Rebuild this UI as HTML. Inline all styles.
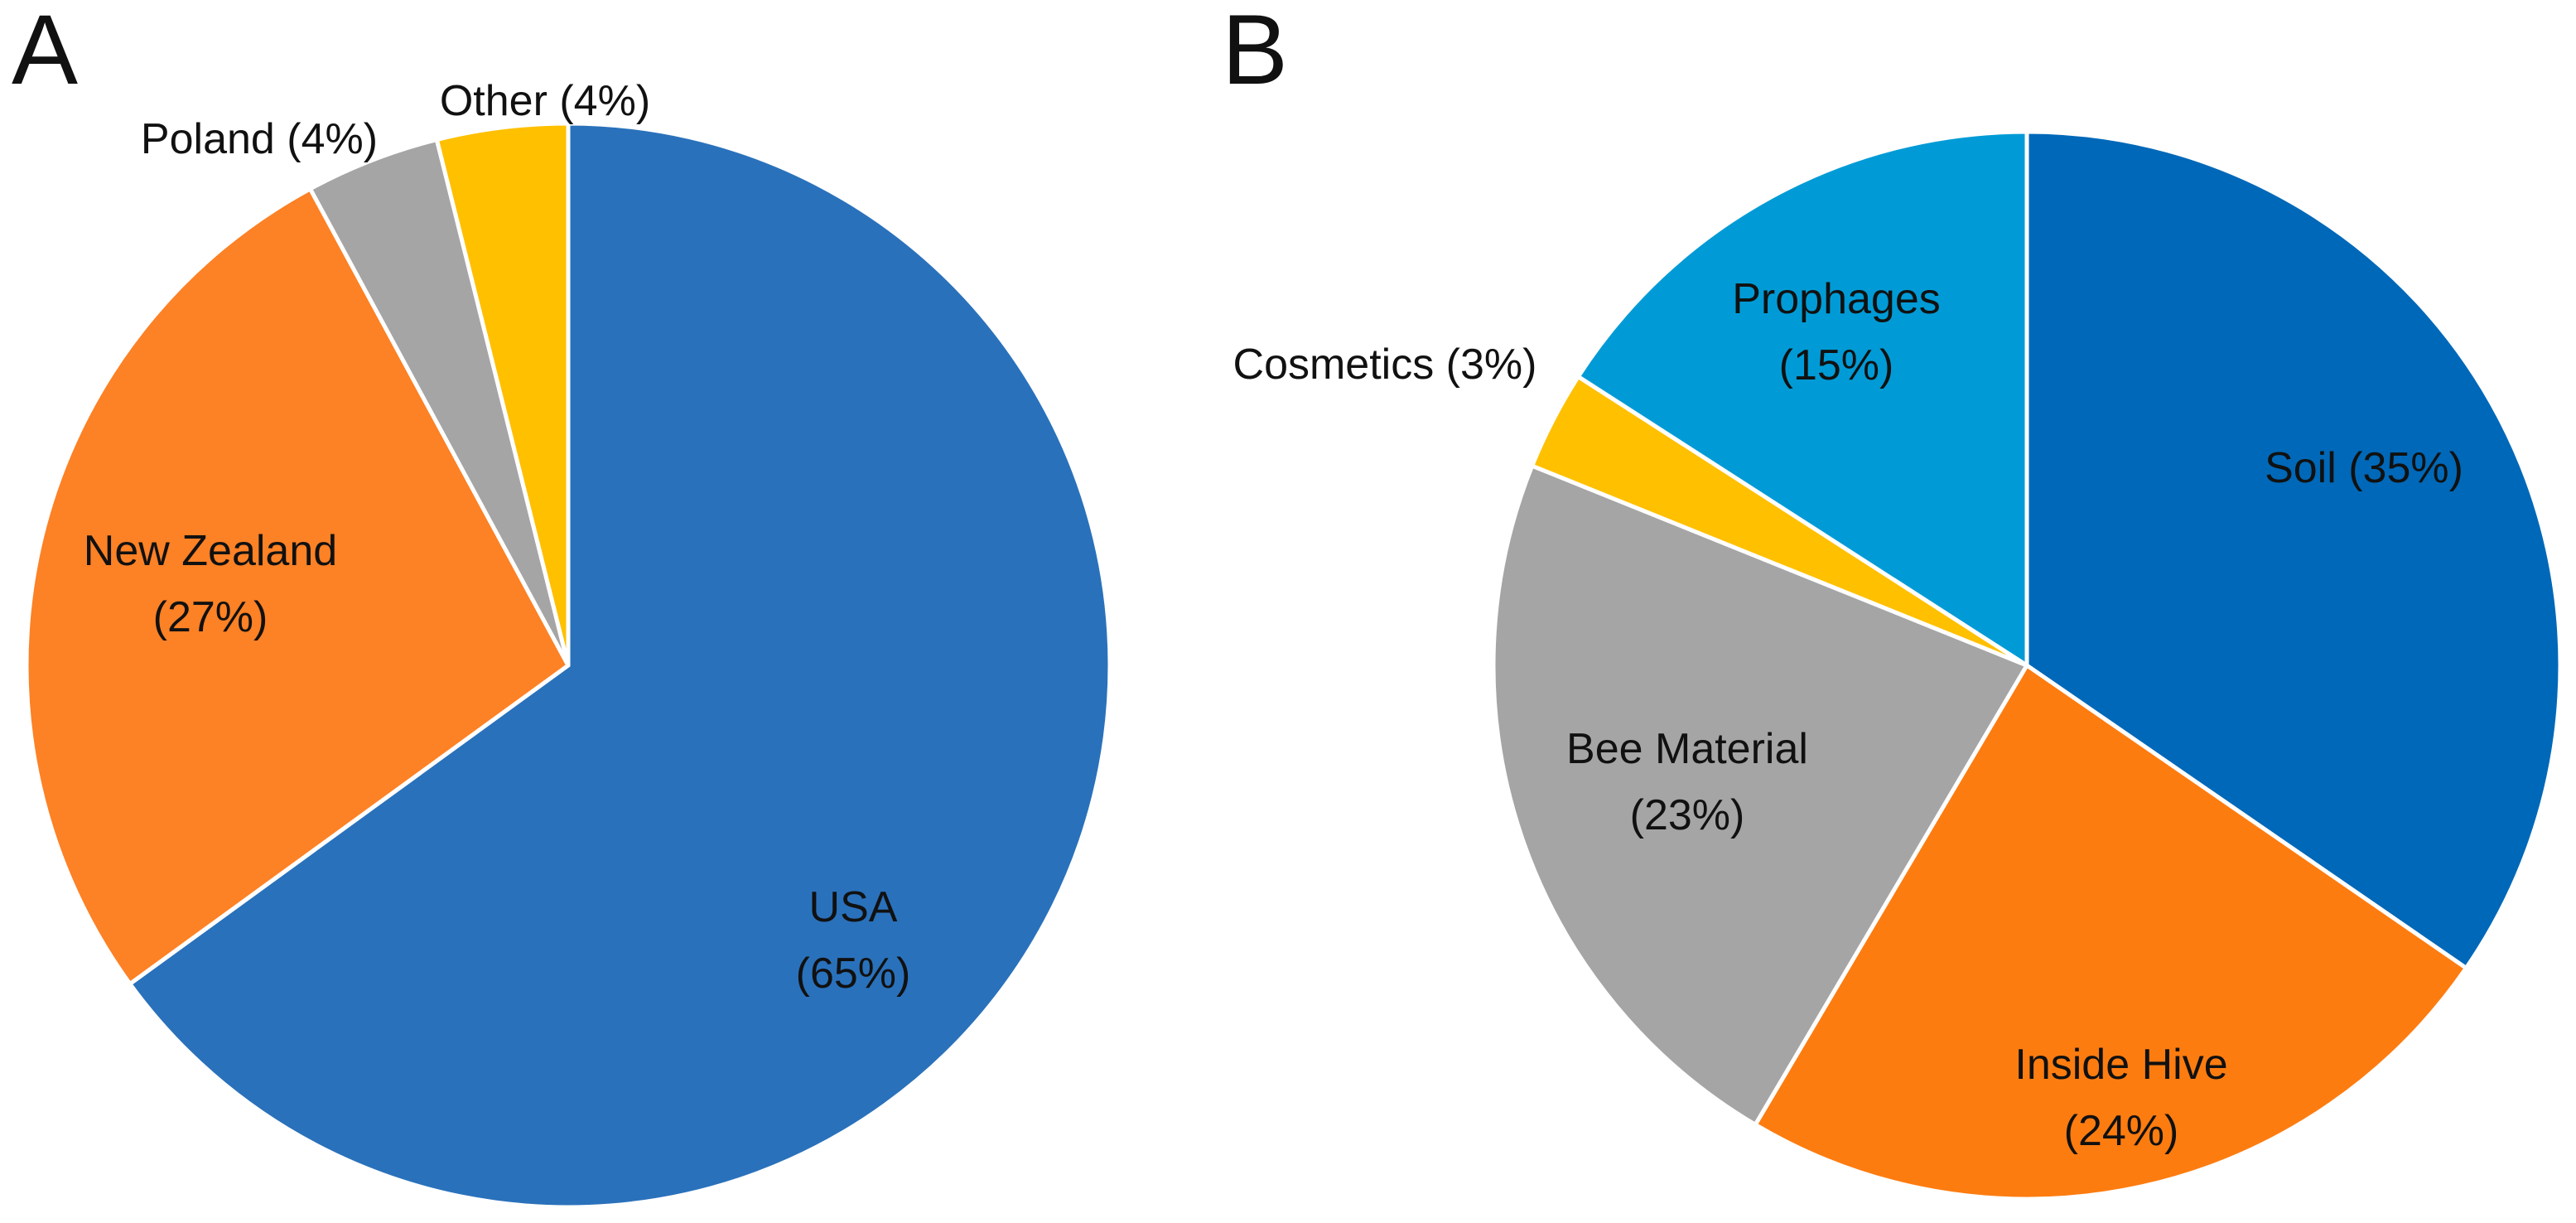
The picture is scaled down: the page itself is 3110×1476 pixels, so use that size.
<!DOCTYPE html>
<html><head><meta charset="utf-8"><style>
html,body{margin:0;padding:0;background:#fff}
svg{display:block}
text{font-family:"Liberation Sans",sans-serif;fill:#111}
</style></head><body>
<svg id="chart" width="3110" height="1476" viewBox="0 0 3110 1476" xmlns="http://www.w3.org/2000/svg">
<text x="14" y="101" font-size="120">A</text>
<text x="1475" y="101" font-size="120">B</text>
<g id="pieA"></g>
<g id="pieB"></g>
</svg>
<script>
const catsA = ["USA","New Zealand","Poland","Other"];
const valsA = [65,27.1,4,3.9];
const colorsA = ["#2A71BB","#FD8125","#A5A5A5","#FFC000"];
const catsB = ["Soil","Inside Hive","Bee Material","Cosmetics","Prophages"];
const valsB = [34.6,23.9,22.6,3.0,15.9];
const colorsB = ["#0068B8","#FD7C10","#A5A5A5","#FFC000","#009BD6"];
// label layout [x, y, lines] in px
const labA = [[1030,1095,["USA","(65%)"]],[254,665,["New Zealand","(27%)"]],[313,168,["Poland (4%)"]],[658,122,["Other (4%)"]]];
const labB = [[2854,565,["Soil (35%)"]],[2561,1285,["Inside Hive","(24%)"]],[2037,904,["Bee Material","(23%)"]],[1672,440,["Cosmetics (3%)"]],[2217,361,["Prophages","(15%)"]]];
const NS="http://www.w3.org/2000/svg";
function drawPie(gid,cats,vals,colors,cx,cy,r,labs,prefix){
  const g=document.getElementById(gid);
  const tot=vals.reduce((a,b)=>a+b,0);
  let a0=0;
  vals.forEach((v,i)=>{
    const a1=a0+v/tot*2*Math.PI;
    const x0=cx+r*Math.sin(a0),y0=cy-r*Math.cos(a0);
    const x1=cx+r*Math.sin(a1),y1=cy-r*Math.cos(a1);
    const large=(a1-a0)>Math.PI?1:0;
    const p=document.createElementNS(NS,"path");
    p.setAttribute("d",`M${cx},${cy}L${x0},${y0}A${r},${r} 0 ${large} 1 ${x1},${y1}Z`);
    p.setAttribute("fill",colors[i]);
    p.setAttribute("stroke","#fff");
    p.setAttribute("stroke-width","5");
    p.setAttribute("stroke-linejoin","round");
    
    
    g.appendChild(p);
    a0=a1;
  });
  labs.forEach((l,i)=>{
    const t=document.createElementNS(NS,"text");
    t.setAttribute("x",l[0]);t.setAttribute("y",l[1]);
    t.setAttribute("font-size","52");
    t.setAttribute("text-anchor","middle");
    t.setAttribute("dominant-baseline","central");
    l[2].forEach((s,j)=>{
      const ts=document.createElementNS(NS,"tspan");
      ts.setAttribute("x",l[0]);
      if(j>0) ts.setAttribute("dy","80");
      ts.textContent=s;
      t.appendChild(ts);
    });
    
    
    g.appendChild(t);
  });
}
drawPie("pieA",catsA,valsA,colorsA,686,803,654,labA,"pie-a");
drawPie("pieB",catsB,valsB,colorsB,2447,803,644,labB,"pie-b");
</script>
</body></html>
